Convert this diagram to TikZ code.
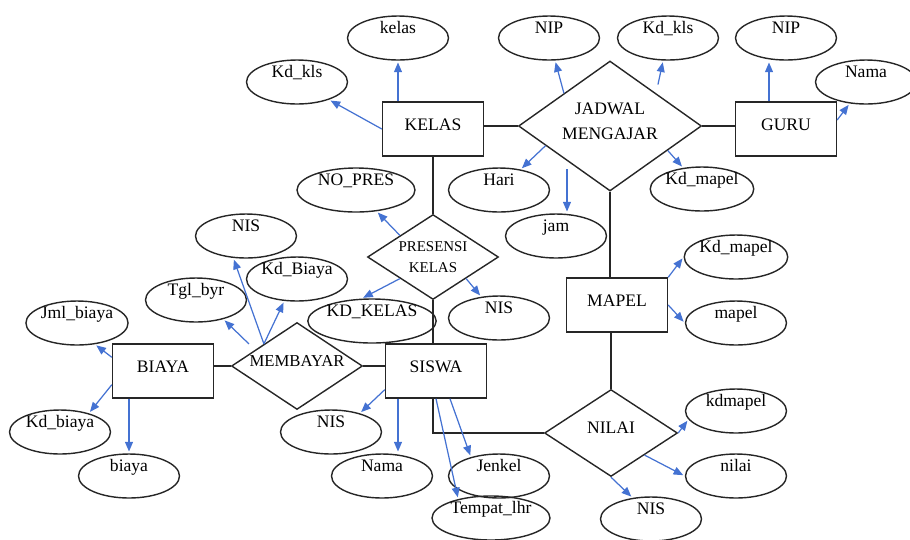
\documentclass[tikz,border=0pt]{standalone}
\usepackage{fontspec}
\setmainfont{Liberation Serif}
\usetikzlibrary{shapes.geometric,arrows.meta}
\definecolor{attrblue}{RGB}{68,114,210}
\begin{document}
\begin{tikzpicture}[x=0.02cm,y=-0.02cm,
  entity/.style={draw=black!85,line width=0.8pt,minimum width=2.02cm,minimum height=1.08cm,inner sep=0pt,text height=7pt,text depth=5pt,font=\fontsize{10}{12}\selectfont},
  rel/.style={diamond,draw=black!85,line width=0.8pt,inner sep=0pt,aspect=1.5,align=center,font=\fontsize{10}{14.5}\selectfont},
  raised/.style={inner sep=-2pt,text height=7pt,text depth=7pt},
  attr/.style={ellipse,draw=black!85,line width=0.8pt,minimum width=2.02cm,minimum height=0.88cm,inner xsep=0pt,inner ysep=-2pt,text height=7pt,text depth=12pt,font=\fontsize{10}{12}\selectfont},
  wide/.style={minimum width=2.36cm},
  link/.style={draw=black!85,line width=0.8pt},
  hasattr/.style={draw=attrblue,line width=0.7pt,-{Triangle[length=5.5pt,width=4.5pt]},shorten >=1pt}]
  \useasboundingbox (0,0) rectangle (910,539);

  \node[entity] (KELAS) at (433,129) {KELAS};
  \node[entity] (GURU) at (786,129) {GURU};
  \node[entity] (BIAYA) at (163,371) {BIAYA};
  \node[entity] (SISWA) at (436,371) {SISWA};
  \node[entity] (MAPEL) at (617,305) {MAPEL};

  \node[rel,minimum width=3.66cm,minimum height=2.6cm,aspect=1.4,text height=21.5pt,text depth=5.7pt] (JADWAL) at (610,126) {JADWAL\\MENGAJAR};
  \node[rel,minimum width=2.62cm,minimum height=1.7cm,font=\fontsize{8.5}{12}\selectfont] (PRESENSI) at (433,257) {PRESENSI\\KELAS};
  \node[rel,raised,minimum width=2.62cm,minimum height=1.74cm,font=\fontsize{9.5}{12}\selectfont] (MEMBAYAR) at (297,366) {MEMBAYAR};
  \node[rel,raised,minimum width=2.66cm,minimum height=1.74cm] (NILAI) at (611,433) {NILAI};

  \draw[link] (KELAS.east |- JADWAL.west) -- (JADWAL.west);
  \draw[link] (JADWAL.east) -- (JADWAL.east -| GURU.west);
  \draw[link] (KELAS.south) -- (PRESENSI.north);
  \draw[link] (PRESENSI.south) -- (PRESENSI.south |- SISWA.north);
  \draw[link] (JADWAL.south) -- (JADWAL.south |- MAPEL.north);
  \draw[link] (NILAI.north |- MAPEL.south) -- (NILAI.north);
  \draw[link] (BIAYA.east |- MEMBAYAR.west) -- (MEMBAYAR.west);
  \draw[link] (MEMBAYAR.east) -- (MEMBAYAR.east -| SISWA.west);
  \draw[link] (PRESENSI.south |- SISWA.south) |- (NILAI.west);

  \node[attr] (aKelas) at (398,38) {kelas};
  \node[attr] (aKdKls) at (297,82) {Kd\_kls};
  \node[attr] (aNipJ) at (549,38) {NIP};
  \node[attr] (aKdKlsJ) at (668,38) {Kd\_kls};
  \node[attr] (aHari) at (499,190) {Hari};
  \node[attr] (aJam) at (556,236) {jam};
  \node[attr] (aKdMapelJ) at (702,189) {Kd\_mapel};
  \node[attr] (aNipG) at (786,38) {NIP};
  \node[attr] (aNamaG) at (866,82) {Nama};
  \node[attr,wide] (aNoPres) at (356,190) {NO\_PRES};
  \node[attr] (aNisP) at (499,318) {NIS};
  \node[attr,wide] (aKdKelas) at (372,321) {KD\_KELAS};
  \node[attr] (aNisM) at (246,236) {NIS};
  \node[attr] (aKdBiayaM) at (297,279) {Kd\_Biaya};
  \node[attr] (aTglByr) at (196,300) {Tgl\_byr};
  \node[attr] (aJmlBiaya) at (77,323) {Jml\_biaya};
  \node[attr] (aKdBiaya) at (60,432) {Kd\_biaya};
  \node[attr] (aBiaya) at (129,476) {biaya};
  \node[attr] (aNisS) at (331,432) {NIS};
  \node[attr] (aNamaS) at (382,476) {Nama};
  \node[attr] (aJenkel) at (499,476) {Jenkel};
  \node[attr,wide] (aTempat) at (491,518) {Tempat\_lhr};
  \node[attr] (aKdMapel) at (736,257) {Kd\_mapel};
  \node[attr] (aMapel) at (736,323) {mapel};
  \node[attr] (aKdmapel) at (736,411) {kdmapel};
  \node[attr] (aNilai) at (736,476) {nilai};
  \node[attr] (aNisN) at (651,519) {NIS};

  \draw[hasattr] (KELAS.north -| aKelas) -- (aKelas);
  \draw[hasattr] (KELAS.west) -- (aKdKls);
  \draw[hasattr] (JADWAL.north west) -- (aNipJ);
  \draw[hasattr,shorten <=5pt] (JADWAL.north east) -- (aKdKlsJ);
  \draw[hasattr] (JADWAL.197) -- (aHari);
  \draw[hasattr,shorten <=6pt] ([xshift=0.22cm]aJam.north |- JADWAL.south west) -- ([xshift=0.22cm]aJam.north);
  \draw[hasattr] (JADWAL.-23) -- (aKdMapelJ);
  \draw[hasattr] ([xshift=-0.34cm]GURU.north) -- ([xshift=-0.34cm]aNipG.south);
  \draw[hasattr] (GURU.10) -- (aNamaG);
  \draw[hasattr] (PRESENSI.north west) -- (aNoPres);
  \draw[hasattr] (PRESENSI.south west) -- (aKdKelas.115);
  \draw[hasattr] (PRESENSI.south east) -- (aNisP);
  \draw[hasattr] (MEMBAYAR.north west) -- (aNisM.240);
  \draw[hasattr] (MEMBAYAR.north west) -- (aKdBiayaM.240);
  \draw[hasattr] ([xshift=-0.3cm]MEMBAYAR.north west) -- (aTglByr.-35);
  \draw[hasattr] (BIAYA.165) -- (aJmlBiaya.-50);
  \draw[hasattr] (BIAYA.195) -- (aKdBiaya.33);
  \draw[hasattr] (BIAYA.south -| aBiaya) -- (aBiaya);
  \draw[hasattr] (SISWA.200) -- (aNisS.33);
  \draw[hasattr] ([xshift=0.32cm]aNamaS.north |- SISWA.south) -- ([xshift=0.32cm]aNamaS.north);
  \draw[hasattr] ([xshift=0.28cm]SISWA.south) -- (aJenkel.146);
  \draw[hasattr] (SISWA.south) -- (aTempat.150);
  \draw[hasattr] (MAPEL.north east) -- (aKdMapel.west);
  \draw[hasattr] (MAPEL.east) -- (aMapel.west);
  \draw[hasattr] (NILAI.east) -- (aKdmapel.190);
  \draw[hasattr] (NILAI.south east) -- (aNilai.west);
  \draw[hasattr] (NILAI.south) -- (aNisN.131);
\end{tikzpicture}
\end{document}
